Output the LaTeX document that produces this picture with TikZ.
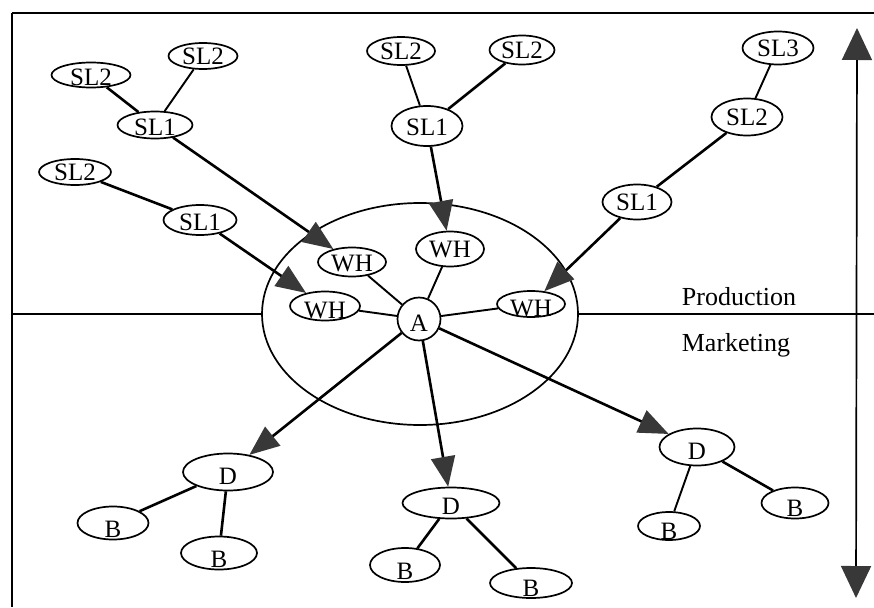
\documentclass[tikz,border=0pt]{standalone}
\usepackage{fontspec}
\setmainfont{Liberation Serif}
\usetikzlibrary{shapes.geometric,arrows.meta}
\definecolor{tipgray}{gray}{0.22}
% zero-size label so the ellipse keeps its own size; optional downward shift
\newcommand{\lbl}[2][0pt]{\makebox[0pt]{\raisebox{\dimexpr-.34em-#1\relax}[0pt][0pt]{#2}}}
\tikzset{
  nd/.style={draw, ellipse, line width=1.7pt, fill=white, inner sep=0pt,
             font=\fontsize{25}{25}\selectfont},
  link/.style={line width=2.6pt},
  thinlink/.style={line width=1.9pt},
  flow/.style={line width=2.6pt, -{Triangle[length=30pt,width=24pt,color=tipgray]}},
  frameline/.style={line width=1.8pt},
  side/.style={font=\fontsize{26}{26}\selectfont},
}
\begin{document}
\begin{tikzpicture}[x=1pt,y=-1pt]
\useasboundingbox (0,0) rectangle (874,607);

% frame and the production / marketing divide
\coordinate (tl) at (12,13);
\coordinate (tr) at (874,13);
\coordinate (bl) at (12,607);
\coordinate (ml) at (12,314);
\coordinate (mr) at (874,314);
\draw[frameline, line width=2.4pt] (tl) -- (tr);
\draw[frameline] (tl) -- (bl);

% the site
\node[draw, ellipse, line width=1.7pt, minimum width=316pt, minimum height=222pt, inner sep=0pt] (site) at (420,314) {};
\draw[frameline] (ml) -- (site.west);
\draw[frameline] (site.east) -- (mr);

% vertical double arrow
\coordinate (vt) at (857,28);
\coordinate (vb) at (856,598);
\draw[line width=1.7pt, {Triangle[length=32pt,width=30pt,color=tipgray]}-{Triangle[length=32pt,width=30pt,color=tipgray]}] (vt) -- (vb);

\node[side] (prod) at (739,297) {Production};
\node[side] (mkt) at (736,345) {Marketing};

% suppliers, left
\node[nd, minimum width=79pt, minimum height=25pt] (s2a) at (91,75) {\lbl[2pt]{SL2}};
\node[nd, minimum width=69pt, minimum height=26pt] (s2b) at (203,56) {\lbl{SL2}};
\node[nd, minimum width=75pt, minimum height=27pt] (s1a) at (155,125) {\lbl[2pt]{SL1}};
\node[nd, minimum width=72pt, minimum height=26pt] (s2c) at (75,172) {\lbl{SL2}};
\node[nd, minimum width=73pt, minimum height=30pt] (s1b) at (200,220) {\lbl[2pt]{SL1}};

% suppliers, middle
\node[nd, minimum width=68pt, minimum height=28pt] (s2d) at (401,51) {\lbl{SL2}};
\node[nd, minimum width=65pt, minimum height=29pt] (s2e) at (522,50) {\lbl{SL2}};
\node[nd, minimum width=71pt, minimum height=40pt] (s1c) at (427,126) {\lbl[1pt]{SL1}};

% suppliers, right
\node[nd, minimum width=71pt, minimum height=33pt] (s3) at (778,48) {\lbl{SL3}};
\node[nd, minimum width=71pt, minimum height=37pt] (s2f) at (747,117) {\lbl{SL2}};
\node[nd, minimum width=69pt, minimum height=35pt] (s1d) at (637,202) {\lbl{SL1}};

% warehouses and the assembler
\node[nd, minimum width=68pt, minimum height=35pt] (wht) at (450,249) {\lbl{WH}};
\node[nd, minimum width=68pt, minimum height=29pt] (whu) at (352,262) {\lbl[1pt]{WH}};
\node[nd, minimum width=70pt, minimum height=29pt] (whl) at (325,306) {\lbl[4pt]{WH}};
\node[nd, minimum width=68pt, minimum height=26pt] (whr) at (531,304) {\lbl[4pt]{WH}};
\node[nd, circle, minimum size=43pt] (a) at (419,319) {\lbl[4pt]{A}};

% distributors and buyers
\node[nd, minimum width=90pt, minimum height=37pt] (dl) at (228,472) {\lbl[4pt]{D}};
\node[nd, minimum width=71pt, minimum height=33pt] (bl1) at (113,523) {\lbl[6pt]{B}};
\node[nd, minimum width=76pt, minimum height=33pt] (bl2) at (219,553) {\lbl[6pt]{B}};

\node[nd, minimum width=97pt, minimum height=31pt] (dm) at (451,503) {\lbl[3pt]{D}};
\node[nd, minimum width=70pt, minimum height=34pt] (bm1) at (405,565) {\lbl[6pt]{B}};
\node[nd, minimum width=82pt, minimum height=30pt] (bm2) at (531,583) {\lbl[5pt]{B}};

\node[nd, minimum width=75pt, minimum height=37pt] (dr) at (697,447) {\lbl[4pt]{D}};
\node[nd, minimum width=62pt, minimum height=28pt] (br1) at (669,526) {\lbl[5pt]{B}};
\node[nd, minimum width=67pt, minimum height=31pt] (br2) at (795,503) {\lbl[5pt]{B}};

% supplier links
\draw[link] (s2a) -- (s1a);
\draw[thinlink] (s2b) -- (s1a);
\draw[link] (s2c) -- (s1b);
\draw[thinlink] (s2d) -- (s1c);
\draw[link] (s2e) -- (s1c);
\draw[thinlink] (s3) -- (s2f);
\draw[link] (s2f) -- (s1d);

% supply flows into the site
\draw[flow] (s1a) -- (whu);
\draw[flow] (s1b) -- (whl);
\draw[flow] (s1c) -- (wht);
\draw[flow] (s1d) -- (whr);

% warehouse links
\draw[thinlink] (whu) -- (a);
\draw[thinlink] (wht) -- (a);
\draw[thinlink] (whl) -- (a);
\draw[thinlink] (whr) -- (a);

% distribution flows
\draw[flow] (a) -- (dl);
\draw[flow] (a) -- (dm);
\draw[flow] (a) -- (dr);

% buyer links
\draw[link] (dl) -- (bl1);
\draw[link] (dl) -- (bl2);
\draw[link] (dm) -- (bm1);
\draw[link] (dm) -- (bm2);
\draw[thinlink] (dr) -- (br1);
\draw[link] (dr) -- (br2);
\end{tikzpicture}
\end{document}
